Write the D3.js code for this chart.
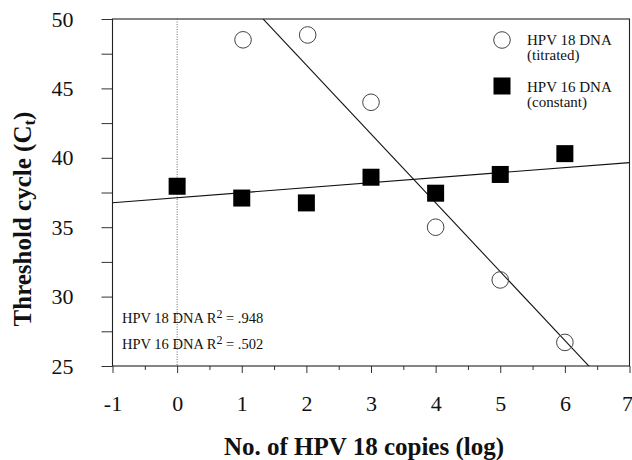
<!DOCTYPE html>
<html>
<head>
<meta charset="utf-8">
<script src="https://cdn.jsdelivr.net/npm/d3@7"></script>
<style>
  body { margin: 0; background: #fff; }
  svg { display: block; }
  text { font-family: "Liberation Serif", "Times New Roman", serif; fill: #111; }
</style>
</head>
<body>
<svg id="chart" width="632" height="460"></svg>
<script>
// data
var xTicks = [-1, 0, 1, 2, 3, 4, 5, 6, 7];
var yTicks = [25, 30, 35, 40, 45, 50];
var hpv18X = [1.02, 2.02, 3.0, 4.0, 5.0, 6.0];
var hpv18Y = [48.5, 48.85, 44.0, 35.0, 31.2, 26.7];
var hpv16X = [0, 1, 2, 3, 4, 5, 6];
var hpv16Y = [37.95, 37.1, 36.75, 38.6, 37.45, 38.8, 40.3];
// fitted lines [slope, intercept] as drawn in the figure
var fit18 = [-4.96, 56.6];
var fit16 = [0.362, 37.12];
var r2Labels = ["HPV 18 DNA R", "HPV 16 DNA R"];
var r2Values = [".948", ".502"];

var svg = d3.select("#chart");
var m = {left: 112.5, right: 629.5, top: 19, bottom: 366};

var x = d3.scaleLinear().domain([-1, 7]).range([m.left, m.right]);
var y = d3.scaleLinear().domain([25, 50]).range([m.bottom, m.top]);

svg.append("clipPath").attr("id", "plotClip")
    .append("rect")
    .attr("x", m.left).attr("y", m.top)
    .attr("width", m.right - m.left).attr("height", m.bottom - m.top);

//#region axes
// minor ticks first, then the major ones with labels
svg.append("g")
    .attr("transform", `translate(0,${m.bottom})`)
    .call(d3.axisBottom(x).tickValues(d3.range(-0.5, 7, 1)).tickSize(4).tickFormat(""))
    .call(a => a.select(".domain").remove());
svg.append("g")
    .attr("transform", `translate(${m.left},0)`)
    .call(d3.axisLeft(y).tickValues(d3.range(27.5, 50, 5)).tickSize(11).tickFormat(""))
    .call(a => a.select(".domain").remove());

var xAxis = svg.append("g")
    .attr("transform", `translate(0,${m.bottom})`)
    .call(d3.axisBottom(x).tickValues(xTicks).tickSize(7).tickPadding(22).tickFormat(d => String(d)));
var yAxis = svg.append("g")
    .attr("transform", `translate(${m.left},0)`)
    .call(d3.axisLeft(y).tickValues(yTicks).tickSize(11).tickPadding(28));

svg.selectAll(".domain").remove();
svg.selectAll(".tick line").attr("stroke", "#333").attr("stroke-width", 1);
xAxis.selectAll("text").style("font-size", "22px").attr("fill", "#111")
    .style("font-family", "'Liberation Serif', serif");
// last label sits against the right edge
xAxis.selectAll("text").filter(d => d == 7).attr("text-anchor", "end").attr("x", 3);
yAxis.selectAll("text").style("font-size", "22px").attr("fill", "#111")
    .style("font-family", "'Liberation Serif', serif");

// frame
svg.append("rect")
    .attr("x", m.left).attr("y", m.top)
    .attr("width", m.right - m.left).attr("height", m.bottom - m.top)
    .attr("fill", "none").attr("stroke", "#222").attr("stroke-width", 1.1);

// dotted line at x = 0
svg.append("line")
    .attr("x1", x(0)).attr("x2", x(0))
    .attr("y1", m.top).attr("y2", m.bottom)
    .attr("stroke", "#666").attr("stroke-width", 1).attr("stroke-dasharray", "1,1.5");

//#region fits
var plot = svg.append("g").attr("clip-path", "url(#plotClip)");
[fit18, fit16].forEach(function(f){
    plot.append("line")
        .attr("x1", x(-1)).attr("y1", y(f[0]*-1 + f[1]))
        .attr("x2", x(7)).attr("y2", y(f[0]*7 + f[1]))
        .attr("stroke", "#111").attr("stroke-width", 1.1);
});

//#region points
var sq = 17;
svg.append("g").selectAll("rect")
    .data(hpv16X.map((d, i) => [d, hpv16Y[i]]))
    .join("rect")
    .attr("x", d => x(d[0]) - sq/2)
    .attr("y", d => y(d[1]) - sq/2)
    .attr("width", sq).attr("height", sq)
    .attr("fill", "#000");

svg.append("g").selectAll("circle")
    .data(hpv18X.map((d, i) => [d, hpv18Y[i]]))
    .join("circle")
    .attr("cx", d => x(d[0]))
    .attr("cy", d => y(d[1]))
    .attr("r", 8.3)
    .attr("fill", "none")
    .attr("stroke", "#444").attr("stroke-width", 1);

//#region legend
var leg = svg.append("g").style("font-size", "15px");
leg.append("circle").attr("cx", 502).attr("cy", 40).attr("r", 8.3)
    .attr("fill", "#fff").attr("stroke", "#444").attr("stroke-width", 1);
leg.append("text").attr("x", 527).attr("y", 45).text("HPV 18 DNA");
leg.append("text").attr("x", 527).attr("y", 60).text("(titrated)");
leg.append("rect").attr("x", 502 - sq/2).attr("y", 86 - sq/2)
    .attr("width", sq).attr("height", sq).attr("fill", "#000");
leg.append("text").attr("x", 527).attr("y", 92).text("HPV 16 DNA");
leg.append("text").attr("x", 527).attr("y", 107).text("(constant)");

// R squared notes
var notes = svg.append("g").style("font-size", "14.5px");
r2Labels.forEach(function(lbl, i){
    var t = notes.append("text").attr("x", 122).attr("y", 323 + i*26);
    t.append("tspan").text(lbl);
    t.append("tspan").attr("dy", -5).style("font-size", "12px").text("2");
    t.append("tspan").attr("dy", 5).text(" = " + r2Values[i]);
});

//#region titles
svg.append("text")
    .attr("x", (m.left + m.right) / 2 - 7).attr("y", 455)
    .attr("text-anchor", "middle")
    .style("font-size", "25px").style("font-weight", "bold")
    .text("No. of HPV 18 copies (log)");

var yt = svg.append("text")
    .attr("transform", "translate(31,219) rotate(-90)")
    .attr("text-anchor", "middle")
    .style("font-size", "25px").style("font-weight", "bold");
yt.append("tspan").text("Threshold cycle (C");
yt.append("tspan").attr("dy", 4).style("font-size", "17px").text("t");
yt.append("tspan").attr("dy", -4).text(")");
</script>
</body>
</html>
